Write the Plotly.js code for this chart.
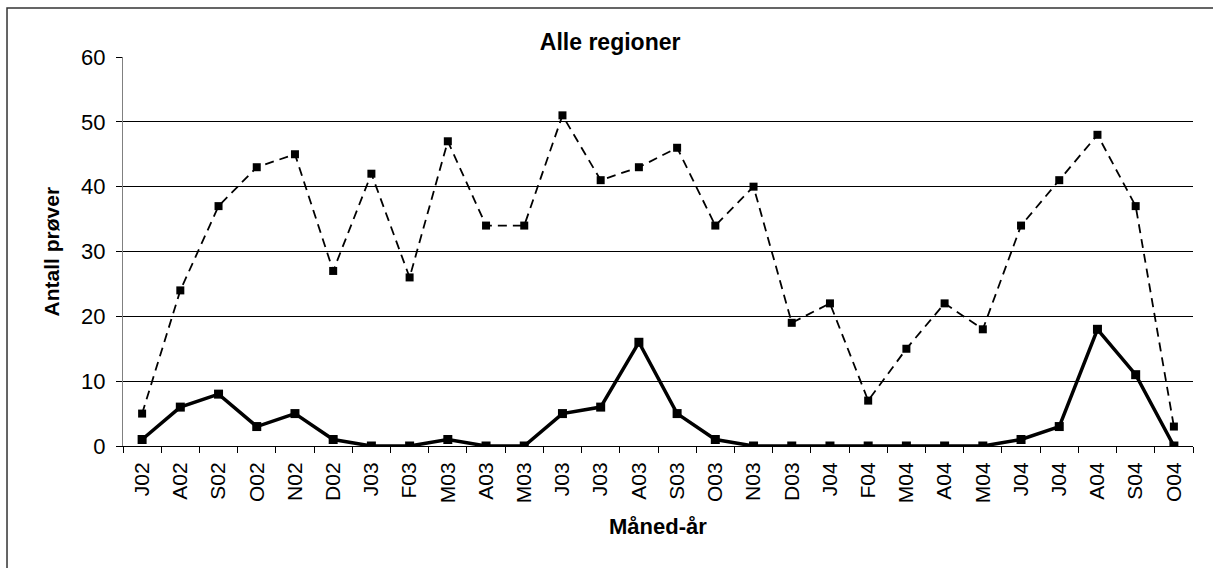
<!DOCTYPE html>
<html>
<head>
<meta charset="utf-8">
<script src="https://cdn.plot.ly/plotly-3.0.1.min.js"></script>
<style>html,body{margin:0;padding:0;background:#fff;}#chart{width:1213px;height:568px;}</style>
</head>
<body>
<div id="chart"></div>
<script>
var monthLabels = ["J02","A02","S02","O02","N02","D02","J03","F03","M03","A03","M03","J03","J03","A03","S03","O03","N03","D03","J04","F04","M04","A04","M04","J04","J04","A04","S04","O04"];
var dashedValues = [5,24,37,43,45,27,42,26,47,34,34,51,41,43,46,34,40,19,22,7,15,22,18,34,41,48,37,3];
var solidValues = [1,6,8,3,5,1,0,0,1,0,0,5,6,16,5,1,0,0,0,0,0,0,0,1,3,18,11,0];
var yTickValues = [0,10,20,30,40,50,60];

var xIdx = monthLabels.map(function(_, i){ return i; });
var FONT = "Liberation Sans, Arial, sans-serif";

var traces = [
  {
    x: xIdx, y: dashedValues, type: "scatter", mode: "lines+markers",
    line: {color: "#000", width: 1.8, dash: "9px,6px"},
    marker: {symbol: "square", size: 8, color: "#000"},
    hoverinfo: "y"
  },
  {
    x: xIdx, y: solidValues, type: "scatter", mode: "lines+markers",
    line: {color: "#000", width: 3.5},
    marker: {symbol: "square", size: 9, color: "#000"},
    hoverinfo: "y"
  }
];

var layout = {
  width: 1213, height: 568,
  margin: {l: 123, r: 20, t: 57, b: 122},
  paper_bgcolor: "#fff", plot_bgcolor: "#fff",
  showlegend: false,
  font: {family: FONT, color: "#000"},
  title: {text: "<b>Alle regioner</b>", font: {family: FONT, size: 23, color: "#000"},
          x: 0.503, xref: "container", xanchor: "center", y: 0.926, yref: "container", yanchor: "middle"},
  xaxis: {
    range: [-0.5, monthLabels.length - 0.5],
    tickmode: "array", tickvals: xIdx, ticktext: monthLabels,
    tickangle: -90, ticks: "", tickfont: {family: FONT, size: 21, color: "#000"},
    ticklabelstandoff: 7,
    showgrid: false, zeroline: false,
    showline: true, linecolor: "#000", linewidth: 1,
    minor: {tick0: -0.5, dtick: 1, ticks: "outside", ticklen: 6, tickwidth: 1, tickcolor: "#000", showgrid: false},
    fixedrange: true
  },
  yaxis: {
    range: [0, 60], tickmode: "array", tickvals: yTickValues,
    ticks: "outside", ticklen: 6, tickwidth: 1, tickcolor: "#000",
    tickfont: {family: FONT, size: 22, color: "#000"},
    ticklabelstandoff: 6,
    showgrid: true, gridcolor: "#000", gridwidth: 1,
    zeroline: false, showline: true, linecolor: "#808080", linewidth: 1,
    fixedrange: true
  },
  annotations: [
    {text: "<b>Antall prøver</b>", xref: "paper", yref: "paper", x: -0.0664, y: 0.5,
     xanchor: "center", yanchor: "middle", textangle: -90, showarrow: false,
     font: {family: FONT, size: 21, color: "#000"}},
    {text: "<b>Måned-år</b>", xref: "paper", yref: "paper", x: 0.5, y: -0.208,
     xanchor: "center", yanchor: "middle", showarrow: false,
     font: {family: FONT, size: 22, color: "#000"}}
  ],
  shapes: [
    {type: "line", xref: "paper", yref: "paper", x0: 0, x1: 1, y0: 1, y1: 1,
     line: {color: "#fff", width: 2}, layer: "above"},
    {type: "rect", xref: "paper", yref: "paper", x0: -0.1084, x1: 1.2, y0: -0.6, y1: 1.126,
     line: {color: "#333", width: 1.5}, fillcolor: "rgba(0,0,0,0)", layer: "below"}
  ]
};

Plotly.newPlot("chart", traces, layout, {displayModeBar: false, staticPlot: true});
</script>
</body>
</html>
